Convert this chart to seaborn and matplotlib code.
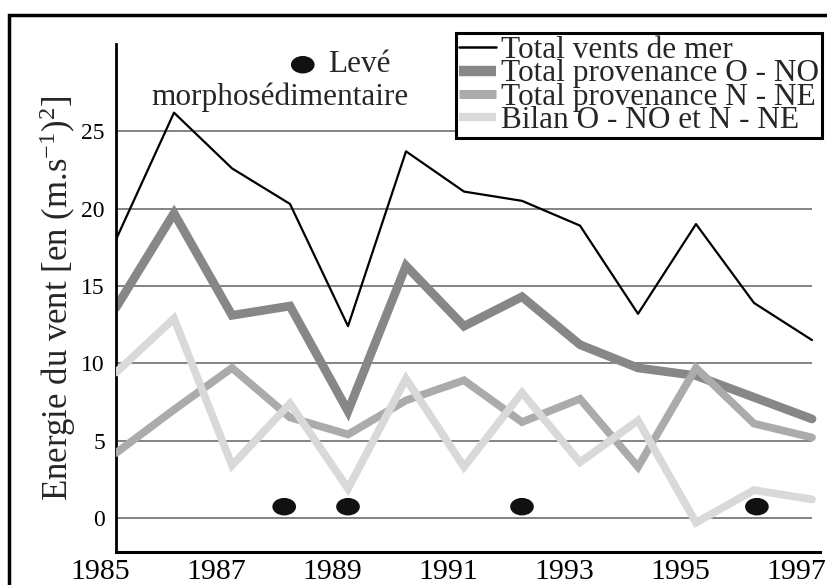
import numpy as np
import pandas as pd
import matplotlib
matplotlib.use("Agg")
import matplotlib.pyplot as plt
import matplotlib.transforms as mtransforms
import seaborn as sns
from matplotlib.path import Path
from matplotlib.markers import MarkerStyle
from matplotlib.patches import Rectangle
from matplotlib.lines import Line2D

# ---- data ----
years = [1985, 1986, 1987, 1988, 1989, 1990, 1991, 1992, 1993, 1994, 1995, 1996, 1997]
total_mer = [18.0, 26.2, 22.6, 20.3, 12.4, 23.7, 21.1, 20.5, 18.9, 13.2, 19.0, 13.9, 11.5]
total_ono = [13.6, 19.7, 13.1, 13.7, 6.9, 16.3, 12.4, 14.3, 11.2, 9.7, 9.2, 7.8, 6.4]
total_nne = [4.2, 7.0, 9.7, 6.5, 5.4, 7.6, 8.9, 6.2, 7.7, 3.3, 9.7, 6.1, 5.2]
bilan = [9.4, 12.9, 3.4, 7.4, 1.9, 9.0, 3.3, 8.1, 3.6, 6.3, -0.3, 1.8, 1.2]
leve_x = [1987.9, 1989.0, 1992.0, 1996.05]
leve_y = [0.73, 0.73, 0.73, 0.73]
xticks = [1985, 1987, 1989, 1991, 1993, 1995, 1997]
yticks = [0, 5, 10, 15, 20, 25]

labels = ["Total vents de mer", "Total provenance O - NO",
          "Total provenance N - NE", "Bilan O - NO et N - NE"]

sns.set_style("white")
plt.rcParams["font.family"] = ["Liberation Serif", "DejaVu Serif"]
plt.rcParams["mathtext.fontset"] = "custom"
plt.rcParams["mathtext.rm"] = "Liberation Serif"
plt.rcParams["mathtext.it"] = "Liberation Serif:italic"

W, H = 828, 585
fig = plt.figure(figsize=(W / 100, H / 100), dpi=100)
ax = fig.add_axes([116 / W, 33 / H, (820 - 116) / W, (552 - 44) / H])
ax.set_xlim(1985, 1985 + (820 - 116) / 58.0)
ax.set_ylim(-2.2, 30.64)

# gridlines
ax.hlines(yticks, 1985, 1997, colors="#7a7a7a", linewidth=1.3, zorder=1)

df = pd.DataFrame({"year": years, "mer": total_mer, "ono": total_ono,
                   "nne": total_nne, "bilan": bilan})

c_dark, c_mid, c_light = "#878787", "#ababab", "#d9d9d9"
sns.lineplot(data=df, x="year", y="ono", ax=ax, color=c_dark, linewidth=6.3,
             zorder=2, solid_joinstyle="miter")
sns.lineplot(data=df, x="year", y="nne", ax=ax, color=c_mid, linewidth=5.6,
             zorder=3, solid_joinstyle="miter")
sns.lineplot(data=df, x="year", y="bilan", ax=ax, color=c_light, linewidth=5.6,
             zorder=4, solid_joinstyle="miter")
sns.lineplot(data=df, x="year", y="mer", ax=ax, color="black", linewidth=1.6,
             zorder=5)

# elliptical dot marker
circ = Path.unit_circle()
ell = Path(circ.vertices * np.array([1.0, 0.74]), circ.codes)
mk = MarkerStyle(ell)
sns.scatterplot(x=leve_x, y=leve_y, ax=ax, marker=mk, s=290, color="#111111",
                edgecolor="none", zorder=6)
sns.scatterplot(x=[1988.22], y=[29.3], ax=ax, marker=mk, s=290, color="#111111",
                edgecolor="none", zorder=6, clip_on=False)
ax.text(1988.66, 29.3, "Levé", fontsize=22.5, va="center", ha="left")
ax.text(1987.83, 27.2, "morphosédimentaire", fontsize=22.5, va="center", ha="center")

# axes styling
for s in ["top", "right"]:
    ax.spines[s].set_visible(False)
ax.spines["left"].set_linewidth(2.0)
ax.spines["bottom"].set_linewidth(2.2)
ax.spines["left"].set_color("black")
ax.spines["bottom"].set_color("black")
ax.set_xticks(xticks)
ax.set_xticklabels([str(t) for t in xticks], fontsize=21.5)
ax.set_yticks(yticks)
ax.set_yticklabels([str(t) for t in yticks], fontsize=17)
ax.tick_params(axis="x", direction="in", length=4, width=1.2, pad=5, colors="black")
ax.tick_params(axis="y", direction="out", length=5, width=1.3, pad=3, colors="black")
shift = mtransforms.ScaledTranslation(-16 / 100, 0, fig.dpi_scale_trans)
for lab in ax.get_xticklabels():
    lab.set_transform(lab.get_transform() + shift)
ax.set_xlabel("")
ax.set_ylabel("Energie du vent [en (m.s$^{-1}$)$^{2}$]", fontsize=25, labelpad=2)

# legend
handles = [Line2D([], [], color="black", linewidth=1.8),
           Line2D([], [], color=c_dark, linewidth=7.5, solid_capstyle="butt"),
           Line2D([], [], color=c_mid, linewidth=6.5, solid_capstyle="butt"),
           Line2D([], [], color=c_light, linewidth=6.0, solid_capstyle="butt")]
leg = fig.legend(handles, labels, loc="upper right",
                 bbox_to_anchor=(822 / W, 1 - 33 / H), fontsize=22.5,
                 frameon=True, fancybox=False, framealpha=1, edgecolor="black",
                 borderpad=0.1, labelspacing=-0.18, handlelength=1.2,
                 handletextpad=0.15, borderaxespad=0)
leg.get_frame().set_linewidth(2.2)

# outer frame
fig.patches.append(Rectangle((9 / W, -0.2), 1.5, (1 - 15 / H) + 0.2,
                             transform=fig.transFigure, fill=False,
                             edgecolor="black", linewidth=2.5, zorder=0))

fig.savefig("out.png", dpi=100)
